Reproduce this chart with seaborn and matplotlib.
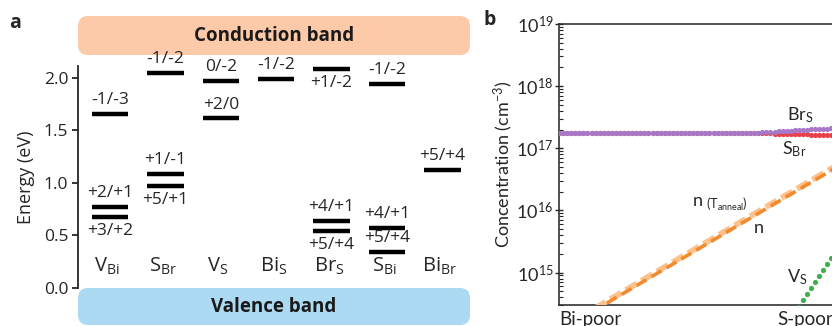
import numpy as np
import pandas as pd
import matplotlib
matplotlib.use("Agg")
import matplotlib.pyplot as plt
import seaborn as sns
from matplotlib.patches import FancyBboxPatch
from matplotlib.ticker import LogLocator, FixedLocator, FuncFormatter, NullFormatter

# ---------------- panel a: defect charge-transition levels ----------------
defect_names = [r"$\mathregular{V_{Bi}}$", r"$\mathregular{S_{Br}}$", r"$\mathregular{V_{S}}$",
                r"$\mathregular{Bi_{S}}$", r"$\mathregular{Br_{S}}$", r"$\mathregular{S_{Bi}}$",
                r"$\mathregular{Bi_{Br}}$"]
level_defect = [0, 0, 0, 1, 1, 1, 2, 2, 3, 4, 4, 4, 5, 5, 5, 6]
level_energy = [1.65, 0.77, 0.67, 2.04, 1.08, 0.97, 1.97, 1.61, 1.99,
                2.08, 0.63, 0.54, 1.94, 0.57, 0.34, 1.12]
level_text = ["-1/-3", "+2/+1", "+3/+2", "-1/-2", "+1/-1", "+5/+1", "0/-2", "+2/0", "-1/-2",
              "+1/-2", "+4/+1", "+5/+4", "-1/-2", "+4/+1", "+5/+4", "+5/+4"]
level_side = [1, 1, -1, 1, 1, -1, 1, 1, 1, -1, 1, -1, 1, 1, 1, 1]

# ---------------- panel b: concentrations along the chemical-potential path ----------------
path_ticks = ["Bi-poor", "S-poor"]
log_brs = [
    17.25, 17.25, 17.25, 17.25, 17.25, 17.25, 17.25, 17.25, 17.25, 17.25,
    17.25, 17.25, 17.25, 17.25, 17.25, 17.25, 17.25, 17.25, 17.25, 17.25,
    17.25, 17.25, 17.25, 17.25, 17.25, 17.25, 17.25, 17.25, 17.25, 17.25,
    17.25, 17.25, 17.25, 17.25, 17.25, 17.25, 17.25, 17.25, 17.25, 17.25,
    17.25, 17.25, 17.25, 17.25, 17.25, 17.25, 17.25, 17.25, 17.25, 17.25,
    17.254, 17.258, 17.262, 17.266, 17.270, 17.274, 17.278, 17.282, 17.286, 17.290,
    17.294, 17.298, 17.302, 17.306, 17.310, 17.313, 17.316, 17.320]
log_sbr = [
    17.25, 17.25, 17.25, 17.25, 17.25, 17.25, 17.25, 17.25, 17.25, 17.25,
    17.25, 17.25, 17.25, 17.25, 17.25, 17.25, 17.25, 17.25, 17.25, 17.25,
    17.25, 17.25, 17.25, 17.25, 17.25, 17.25, 17.25, 17.25, 17.25, 17.25,
    17.25, 17.25, 17.25, 17.25, 17.25, 17.25, 17.25, 17.25, 17.25, 17.25,
    17.25, 17.25, 17.25, 17.25, 17.25, 17.25, 17.25, 17.25, 17.25, 17.248,
    17.245, 17.242, 17.239, 17.236, 17.233, 17.231, 17.229, 17.227, 17.225, 17.224,
    17.223, 17.222, 17.221, 17.220, 17.219, 17.219, 17.218, 17.218]
path_n = [0, 25, 50, 70]
log_n = [14.05, 15.02, 15.99, 16.76]
log_n_anneal = [14.08, 15.05, 16.02, 16.79]
path_vs = [59, 60, 61, 62, 63, 64, 65, 66, 67, 68]
log_vs = [14.45, 14.55, 14.65, 14.75, 14.85, 14.94, 15.04, 15.14, 15.24, 15.34]

# ---------------- figure ----------------
sns.set_theme(style="ticks")
afont = ["Open Sans", "DejaVu Sans"]
bfont = ["Lato", "DejaVu Sans"]
plt.rcParams["font.family"] = afont
plt.rcParams["axes.linewidth"] = 1.3

W, H = 832, 326
fig = plt.figure(figsize=(W / 100, H / 100), dpi=100)

def px_axes(left, top, right, bottom):
    return fig.add_axes([left / W, (H - bottom) / H, (right - left) / W, (bottom - top) / H])

# background layer in pixel coordinates for the band boxes and panel letters
bg = fig.add_axes([0, 0, 1, 1], zorder=-1)
bg.set_xlim(0, W)
bg.set_ylim(H, 0)
bg.axis("off")
bg.add_patch(FancyBboxPatch((78, 16), 392, 39, boxstyle="round,pad=0,rounding_size=10",
                            fc="#fdcaa9", ec="none"))
bg.add_patch(FancyBboxPatch((78, 288), 392, 37, boxstyle="round,pad=0,rounding_size=10",
                            fc="#acdaf3", ec="none"))
bg.text(274, 36, "Conduction band", ha="center", va="center", fontsize=13.5,
        fontweight="bold", color="#1a1a1a")
bg.text(274, 307, "Valence band", ha="center", va="center", fontsize=13.5,
        fontweight="bold", color="#1a1a1a")
bg.text(15, 23, "a", ha="center", va="center", fontsize=14, fontweight="bold")
bg.text(490, 20, "b", ha="center", va="center", fontsize=14, fontweight="bold")

# ---- panel a ----
ax = px_axes(78, 66, 470, 287.5)
ax.set_xlim(-0.58, 6.5)
ax.set_ylim(0, 2.11)
for i in range(len(level_energy)):
    xc = level_defect[i]
    ax.hlines(level_energy[i], xc - 0.33, xc + 0.33, color="black", lw=3.2)
    ax.annotate(level_text[i], (xc, level_energy[i]), xytext=(0, 10 * level_side[i]),
                textcoords="offset points", ha="center", va="center", fontsize=12.5)
for j, name in enumerate(defect_names):
    ax.text(j - 0.05, 0.2, name, ha="center", va="center", fontsize=14.5)
ax.set_yticks([0, 0.5, 1.0, 1.5, 2.0])
ax.set_yticklabels(["0.0", "0.5", "1.0", "1.5", "2.0"])
ax.set_xticks([])
for s in ["top", "right", "bottom"]:
    ax.spines[s].set_visible(False)
ax.tick_params(axis="y", labelsize=12.5, length=4, width=1.3, pad=3)
ax.set_ylabel("Energy (eV)", fontsize=13, labelpad=6)

# ---- panel b ----
bx = px_axes(559, 24, 559 + 488, 305)
bx.set_yscale("log")
bx.set_xlim(0, 120)
bx.set_ylim(3e14, 1e19)

idx = np.arange(len(log_brs))
sns.lineplot(x=path_n, y=10 ** np.array(log_n_anneal), ax=bx, color="#fdc18c", lw=4.2,
             linestyle=(0, (2.2, 0.9)), zorder=3)
sns.lineplot(x=path_n, y=10 ** np.array(log_n), ax=bx, color="#f28a2e", lw=2.6,
             linestyle=(1.5, (3.2, 1.6)), zorder=4)
sns.scatterplot(x=idx, y=10 ** np.array(log_sbr), ax=bx, color="#e6414a", s=14,
                linewidth=0, zorder=5)
sns.scatterplot(x=idx, y=10 ** np.array(log_brs), ax=bx, color="#a678c8", s=14,
                linewidth=0, zorder=6)
sns.scatterplot(x=path_vs, y=10 ** np.array(log_vs), ax=bx, color="#3cb149", s=14,
                linewidth=0, zorder=6)

bx.yaxis.set_major_locator(FixedLocator([1e15, 1e16, 1e17, 1e18, 1e19]))
bx.yaxis.set_major_formatter(FuncFormatter(
    lambda v, p: r"$\mathregular{10^{%d}}$" % round(np.log10(v))))
bx.yaxis.set_minor_locator(LogLocator(base=10, subs=np.arange(2, 10), numticks=30))
bx.yaxis.set_minor_formatter(NullFormatter())
bx.tick_params(axis="y", which="major", direction="inout", length=6, width=1.0,
               labelsize=13, pad=1)
bx.tick_params(axis="y", which="minor", direction="in", length=3, width=0.8)
for lab in bx.get_yticklabels():
    lab.set_family(bfont)
bx.set_xticks([0, 53.6])
bx.set_xticklabels(path_ticks, fontsize=13.5, family=bfont, ha="left")
bx.tick_params(axis="x", length=0, pad=4)
for s in bx.spines.values():
    s.set_color("#333333")
    s.set_linewidth(1.2)
bx.set_xlabel("")
bx.set_ylabel(r"Concentration (cm$\mathregular{^{-3}}$)", fontsize=13, family=bfont, labelpad=1)

bx.text(56, 10 ** 17.53, r"$\mathregular{Br_S}$", fontsize=13, family=bfont, ha="left", va="center")
bx.text(54.8, 10 ** 16.99, r"$\mathregular{S_{Br}}$", fontsize=13, family=bfont, ha="left", va="center")
bx.text(32.7, 10 ** 16.1, r"$\mathregular{n_{\ (T_{anneal})}}$", fontsize=13, family=bfont,
        ha="left", va="center")
bx.text(47.7, 10 ** 15.72, r"$\mathregular{n}$", fontsize=13, family=bfont, ha="left", va="center")
bx.text(56, 10 ** 14.93, r"$\mathregular{V_S}$", fontsize=13, family=bfont, ha="left", va="center")

fig.savefig("out.png", dpi=100)
